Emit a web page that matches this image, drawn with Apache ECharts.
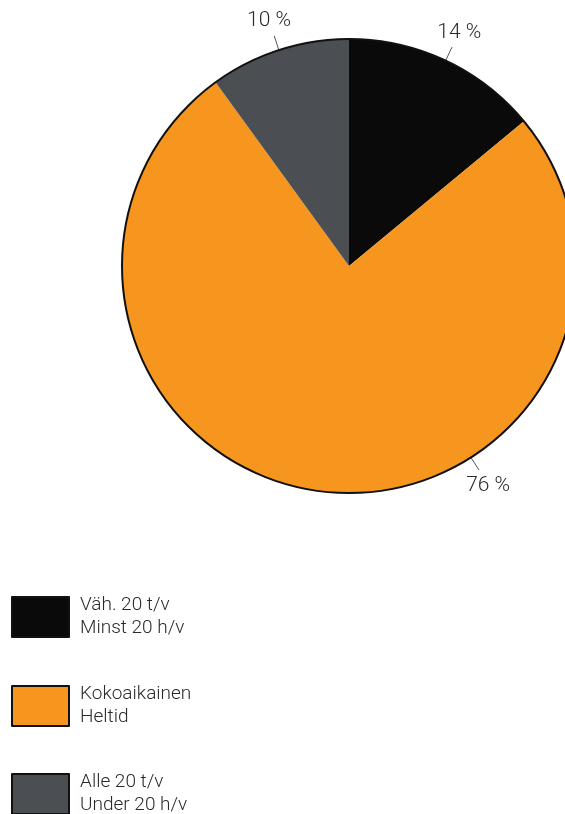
<!DOCTYPE html>
<html>
<head>
<meta charset="utf-8">
<script src="https://cdn.jsdelivr.net/npm/echarts@6/dist/echarts.min.js"></script>
<style>
html,body{margin:0;padding:0;background:#fff;}
#main{width:565px;height:814px;}
</style>
</head>
<body>
<div id="main"></div>
<script>
// Data
var categories = ['Väh. 20 t/v\nMinst 20 h/v', 'Kokoaikainen\nHeltid', 'Alle 20 t/v\nUnder 20 h/v'];
var values = [14, 76, 10];
var sliceColors = ['#0a0a0a', '#f7961f', '#4b4e52'];

var CX = 349, CY = 266, R = 227;
var FONT = 'Roboto, "Liberation Sans", sans-serif';

var total = values.reduce(function(a,b){return a+b;},0);
var midAngles = [];
var acc = 0;
values.forEach(function(v){ midAngles.push((acc + v/2)/total*360); acc += v; });
// label for the large slice sits lower-right in the original
var labelAngles = midAngles.slice();
labelAngles[1] = 147.5;

var legendTops = [594, 683, 771];
var legends = categories.map(function(c, i){
  return {
    orient: 'vertical',
    left: 11,
    top: legendTops[i],
    padding: 0,
    itemWidth: 57,
    itemHeight: 40,
    icon: 'rect',
    selectedMode: false,
    data: [c],
    itemStyle: { borderColor: '#111', borderWidth: 2 },
    textStyle: { fontFamily: FONT, fontWeight: 300, fontSize: 19, lineHeight: 23, color: '#2a2a2a', padding: [0,0,0,6] }
  };
});

var chart = echarts.init(document.getElementById('main'), null, {renderer:'canvas'});
chart.setOption({
  animation: false,
  backgroundColor: '#ffffff',
  legend: legends,
  series: [{
    type: 'pie',
    center: [CX, CY],
    radius: R,
    startAngle: 90,
    clockwise: true,
    silent: true,
    data: categories.map(function(c,i){ return {name:c, value: values[i], itemStyle:{color: sliceColors[i]}}; }),
    itemStyle: { borderWidth: 0 },
    label: {
      show: true,
      position: 'outside',
      formatter: function(p){ return p.value + ' %'; },
      fontFamily: FONT, fontWeight: 300, fontSize: 21, color: '#2a2a2a'
    },
    labelLine: { show: true, length: 10, length2: 5, lineStyle: { color: '#555', width: 1 } },
    labelLayout: function(p){
      var a = labelAngles[p.dataIndex] * Math.PI/180;
      var sx = Math.sin(a), sy = -Math.cos(a);
      var p1 = [CX + R*sx, CY + R*sy];
      var p2 = [CX + (R+15)*sx, CY + (R+15)*sy];
      return {
        x: CX + (R+32)*sx,
        y: CY + (R+32)*sy + 1,
        align: 'center',
        verticalAlign: 'middle',
        labelLinePoints: [p1, p2, p2]
      };
    }
  }, {
    type: 'pie',
    name: 'outline',
    center: [CX, CY],
    radius: R,
    silent: true,
    label: { show: false },
    labelLine: { show: false },
    data: [{ name: '', value: total }],
    itemStyle: { color: 'rgba(0,0,0,0)', borderColor: '#111', borderWidth: 2 }
  }]
});
</script>
</body>
</html>
